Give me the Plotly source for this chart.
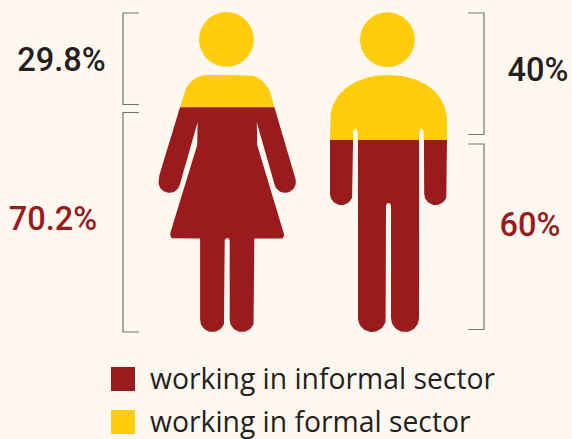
import numpy as np
import plotly.graph_objects as go

# ---- data ----
groups = ["women", "men"]
formal_share = [29.8, 40]
informal_share = [70.2, 60]
legend_labels = ["working in informal sector", "working in formal sector"]

RED, YELLOW, INK, BG, RULE = "#991B1E", "#FFCD0E", "#231F20", "#FFF8F1", "#77736E"
W, H = 572, 439
TOP, BOTTOM = 12.0, 332.0


def arc(cx, cy, r, a0, a1, n=28):
    a = np.radians(np.linspace(a0, a1, n))
    return list(zip(cx + r * np.cos(a), cy + r * np.sin(a)))


def bezier(p0, p1, p2, p3, n=36):
    t = np.linspace(0, 1, n)
    x = (1-t)**3*p0[0] + 3*(1-t)**2*t*p1[0] + 3*(1-t)*t**2*p2[0] + t**3*p3[0]
    y = (1-t)**3*p0[1] + 3*(1-t)**2*t*p1[1] + 3*(1-t)*t**2*p2[1] + t**3*p3[1]
    return list(zip(x, y))


def mirror(half, cx):
    right = [(cx + dx, y) for dx, y in half]
    left = [(cx - dx, y) for dx, y in reversed(half)]
    return right + left


def woman_half():
    p = bezier((20, 75), (30, 75), (38, 81), (43, 92))
    p += [(46.8, 106), (67.8, 175)]
    p += arc(57.9, 182, 10.8, -17, 163)
    p += [(29.8, 123), (29.6, 123), (30, 145), (56.6, 232)]
    p += bezier((56.6, 232), (57.5, 236), (56.5, 238.5), (53.5, 238.5), 10)
    p += [(27.1, 238.5), (27.1, 319.5)]
    p += arc(14.8, 319.7, 12.3, 0, 180)
    p += [(2.5, 241)]
    p += arc(0, 240.5, 2.5, 0, -90, 8)
    return [(0, 75)] + p


def man_half():
    p = bezier((0, 75), (30, 75), (58.5, 90), (58.5, 122))
    p += [(58.5, 193.7)]
    p += arc(47.1, 193.7, 11.4, 0, 180)
    p += arc(33, 131.5, 2.4, 0, -180, 10)
    p += [(30.5, 318)]
    p += arc(16.5, 318, 14, 0, 180)
    p += [(2.5, 206)]
    p += arc(0, 205.5, 2.5, 0, -90, 8)
    return p


def clip(poly, split, keep_above):
    """Cut a closed outline by the horizontal line y = split."""
    inside = (lambda y: y <= split) if keep_above else (lambda y: y >= split)
    out = []
    for i, (x0, y0) in enumerate(poly):
        x1, y1 = poly[(i + 1) % len(poly)]
        if inside(y0):
            out.append((x0, y0))
        if inside(y0) != inside(y1):
            t = (split - y0) / (y1 - y0)
            out.append((x0 + t * (x1 - x0), split))
    return out


def join(polys):
    xs, ys = [], []
    for poly in polys:
        if poly:
            xs += [p[0] for p in poly] + [poly[0][0], None]
            ys += [p[1] for p in poly] + [poly[0][1], None]
    return xs, ys


figures = [
    dict(head=(226.4, 39.5, 27.4), body=mirror(woman_half(), 227.2)),
    dict(head=(387.4, 39.7, 27.4), body=mirror(man_half(), 388.5)),
]

fig = go.Figure()
for name, share, f in zip(groups, formal_share, figures):
    split = TOP + (BOTTOM - TOP) * share / 100
    head = arc(*f["head"], 0, 360, 90)
    for keep_above, color, label in [(True, YELLOW, "formal"), (False, RED, "informal")]:
        xs, ys = join([clip(head, split, keep_above), clip(f["body"], split, keep_above)])
        fig.add_trace(go.Scatter(x=xs, y=ys, mode="lines", fill="toself", fillcolor=color,
                                 line=dict(width=0, color=color), hoverinfo="skip",
                                 name=f"{name} {label}", showlegend=False))

# brackets
brackets = [
    ([139, 123, 123, 139], [13, 13, 104.5, 104.5]),
    ([139, 123, 123, 139], [112.5, 112.5, 332, 332]),
    ([468, 484, 484, 468], [13, 13, 134.5, 134.5]),
    ([468, 484, 484, 468], [144, 144, 329.5, 329.5]),
]
for bx, by in brackets:
    fig.add_trace(go.Scatter(x=bx, y=by, mode="lines", line=dict(color=RULE, width=1.2),
                             hoverinfo="skip", showlegend=False))

# percentage labels
def pct(v):
    return f"{v}%"

label_pos = [
    (pct(formal_share[0]), 61.5, 63, INK, 32.5, 500),
    (pct(informal_share[0]), 53, 222, RED, 32.5, 500),
    (pct(formal_share[1]), 538, 73, INK, 32.5, 500),
    (pct(informal_share[1]), 530, 228, RED, 32.5, 500),
]
for t, x, y, c, s, w in label_pos:
    fig.add_trace(go.Scatter(x=[x], y=[y], mode="text", text=[t], textposition="middle center",
                             textfont=dict(family="Roboto", size=s, color=c, weight=w),
                             hoverinfo="skip", showlegend=False))

# legend
for label, color, ym in zip(legend_labels, [RED, YELLOW], [379, 422]):
    fig.add_trace(go.Scatter(x=[123], y=[ym], mode="markers",
                             marker=dict(symbol="square", size=24, color=color, line=dict(width=0)),
                             hoverinfo="skip", showlegend=False))
    fig.add_trace(go.Scatter(x=[150], y=[ym + 2.5], mode="text", text=[label], textposition="middle right",
                             textfont=dict(family="Open Sans", size=28.3, color=INK, weight=500),
                             hoverinfo="skip", showlegend=False))

fig.update_layout(
    width=W, height=H, autosize=False, paper_bgcolor=BG, plot_bgcolor=BG,
    margin=dict(l=0, r=0, t=0, b=0), showlegend=False,
    xaxis=dict(range=[0, W], visible=False, fixedrange=True),
    yaxis=dict(range=[H, 0], visible=False, fixedrange=True),
)
fig.write_html("out.html", config={"displayModeBar": False},
               post_script="document.body.style.margin='0';document.documentElement.style.background='#FFF8F1';document.body.style.overflow='hidden';")
